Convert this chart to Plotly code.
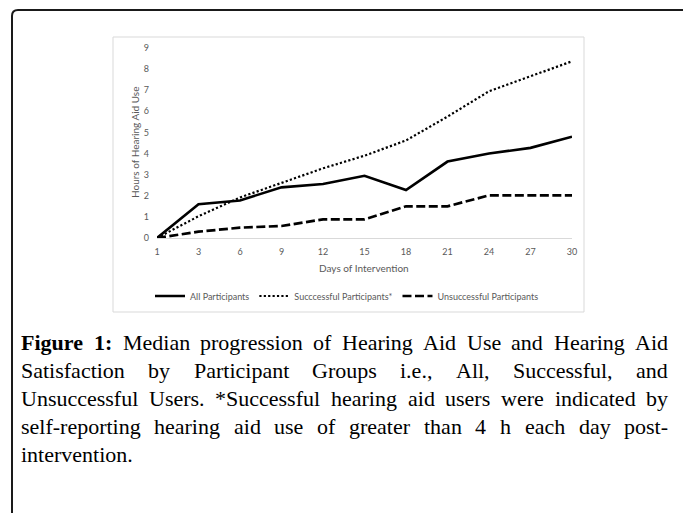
import plotly.graph_objects as go

W, H = 684, 513

# ---------------- data ----------------
days = ["1", "3", "6", "9", "12", "15", "18", "21", "24", "27", "30"]
all_participants = [0, 1.6, 1.78, 2.4, 2.56, 2.95, 2.27, 3.62, 4.0, 4.27, 4.8]
successful = [0, 1.03, 1.92, 2.62, 3.3, 3.9, 4.62, 5.75, 6.95, 7.66, 8.37]
unsuccessful = [0, 0.3, 0.49, 0.57, 0.88, 0.88, 1.5, 1.5, 2.02, 2.02, 2.02]
series_names = ["All Participants", "Succcessful Participants*", "Unsuccessful Participants"]
y_ticks = list(range(0, 10))
x_title = "Days of Intervention"
y_title = "Hours of Hearing Aid Use"
caption_lines = [
    "Median progression of Hearing Aid Use and Hearing Aid",
    "Satisfaction by Participant Groups i.e., All, Successful, and",
    "Unsuccessful Users. *Successful hearing aid users were indicated by",
    "self-reporting hearing aid use of greater than 4 h each day post-",
    "intervention.",
]
caption_label = "Figure 1:"


def px(x):
    return x / W


def py(y):
    return 1 - y / H


fig = go.Figure()
styles = [
    dict(width=2.6, dash="solid"),
    dict(width=2.2, dash="2.2px,2.2px"),
    dict(width=2.7, dash="9px,3.5px"),
]
for name, vals, st in zip(series_names, [all_participants, successful, unsuccessful], styles):
    fig.add_trace(go.Scatter(
        x=days, y=vals, mode="lines", name=name,
        line=dict(color="#000000", width=st["width"], dash=st["dash"]),
        hoverinfo="skip",
    ))

tick_font = dict(family="Lato", size=9, color="#595959")

fig.update_layout(
    width=W, height=H,
    margin=dict(l=0, r=0, t=0, b=0),
    paper_bgcolor="white", plot_bgcolor="white",
    showlegend=True,
    legend=dict(
        orientation="h", x=px(150), xanchor="left", y=py(296), yanchor="middle",
        font=dict(family="Lato", size=9, color="#595959"),
        itemwidth=30, bgcolor="rgba(0,0,0,0)",
    ),
    xaxis=dict(
        type="category", domain=[px(157), px(572)],
        showline=True, linecolor="#d9d9d9", linewidth=1,
        showgrid=False, zeroline=False, ticks="",
        tickfont=tick_font, ticklabelstandoff=5, automargin=False,
    ),
    yaxis=dict(
        range=[0, 9], domain=[py(238), py(48)],
        tickvals=y_ticks, showline=False, showgrid=False, zeroline=False,
        ticks="", tickfont=tick_font, ticklabelstandoff=7, automargin=False,
    ),
)

# axis titles
fig.add_annotation(x=px(364), y=py(268), xref="paper", yref="paper", text=x_title,
                   showarrow=False, font=dict(family="Lato", size=10, color="#595959"),
                   xanchor="center", yanchor="middle")
fig.add_annotation(x=px(135), y=py(143), xref="paper", yref="paper", text=y_title,
                   showarrow=False, textangle=-90,
                   font=dict(family="Lato", size=10, color="#595959"),
                   xanchor="center", yanchor="middle")

# chart box and outer frame
fig.add_shape(type="rect", xref="paper", yref="paper",
              x0=px(113), x1=px(584), y0=py(312), y1=py(37),
              line=dict(color="#d9d9d9", width=1), layer="below")
path = (f"M {px(683)},{py(10)} L {px(18)},{py(10)} "
        f"Q {px(12)},{py(10)} {px(12)},{py(16)} L {px(12)},{py(513)}")
fig.add_shape(type="path", xref="paper", yref="paper", path=path,
              line=dict(color="#1a1a1a", width=2))

# caption, justified using Times/Liberation Serif metrics
REG = {" ": 250, ".": 250, ",": 250, ":": 278, "*": 500, "-": 333}
for c, w in zip("ABCDEFGHIJKLMNOPQRSTUVWXYZ",
                [722, 667, 667, 722, 611, 556, 722, 722, 333, 389, 722, 611, 889,
                 722, 722, 556, 722, 667, 556, 611, 722, 722, 944, 722, 722, 611]):
    REG[c] = w
for c, w in zip("abcdefghijklmnopqrstuvwxyz",
                [444, 500, 444, 500, 444, 333, 500, 500, 278, 278, 500, 278, 778,
                 500, 500, 500, 500, 333, 389, 278, 500, 500, 722, 500, 500, 444]):
    REG[c] = w
for c in "0123456789":
    REG[c] = 500
BOLD = dict(REG)
BOLD.update({"F": 611, "u": 556, "r": 444, ":": 333, "g": 500, "i": 278, "e": 444})

FS = 22
X0, X1 = 20, 667
LINE_Y0, PITCH = 342, 28
cap_font = "Liberation Serif"


def wwidth(word, bold):
    t = BOLD if bold else REG
    return sum(t.get(ch, 500) for ch in word) / 1000 * FS


for i, line in enumerate(caption_lines):
    tokens = [(w, False) for w in line.split(" ")]
    if i == 0:
        tokens = [(w, True) for w in caption_label.split(" ")] + tokens
    yc = LINE_Y0 + i * PITCH
    widths = [wwidth(w, b) for w, b in tokens]
    if i < len(caption_lines) - 1 and len(tokens) > 1:
        gap = (X1 - X0 - sum(widths)) / (len(tokens) - 1)
    else:
        gap = REG[" "] / 1000 * FS
    x = X0
    for (w, b), ww in zip(tokens, widths):
        txt = f"<b>{w}</b>" if b else w
        fig.add_annotation(x=px(x), y=py(yc), xref="paper", yref="paper", text=txt,
                           showarrow=False, xanchor="left", yanchor="middle",
                           borderpad=0,
                           font=dict(family=cap_font, size=FS, color="#000000"))
        x += ww + gap

fig.write_html("out.html", config={"displayModeBar": False},
               post_script="document.body.style.margin='0px';document.body.style.overflow='hidden';")
